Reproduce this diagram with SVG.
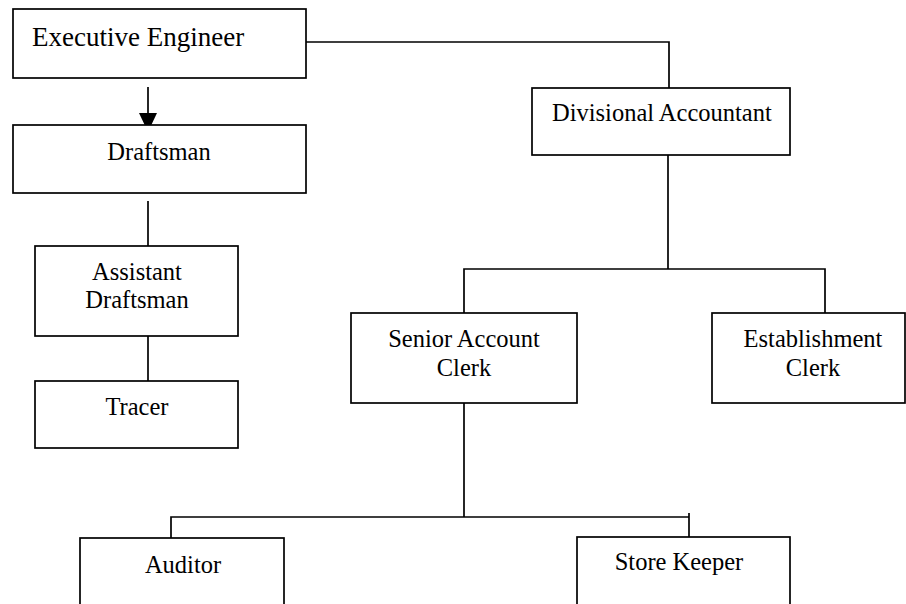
<svg xmlns="http://www.w3.org/2000/svg" width="906" height="604" viewBox="0 0 906 604">
<style>
.box{fill:#fff;stroke:#000;stroke-width:1.7}
.ln{fill:none;stroke:#000;stroke-width:1.7}
text{font-family:"Liberation Serif","Times New Roman",serif;font-size:24.5px;fill:#000}
.c{text-anchor:middle}
</style>
<rect width="906" height="604" fill="#fff"/>
<g id="connectors">
<line class="ln" x1="148" y1="87" x2="148" y2="114"/>
<polygon points="139,113 157,113 148,132" fill="#000"/>
<line class="ln" x1="148" y1="201" x2="148" y2="246"/>
<line class="ln" x1="148" y1="336" x2="148" y2="381"/>
<polyline class="ln" points="306,42 669,42 669,88"/>
<line class="ln" x1="668" y1="155" x2="668" y2="269"/>
<polyline class="ln" points="464,313 464,269 825,269 825,313"/>
<line class="ln" x1="464" y1="403" x2="464" y2="517"/>
<polyline class="ln" points="171,538 171,517 689,517"/>
<line class="ln" x1="689" y1="513" x2="689" y2="537"/>
</g>
<g id="executive-engineer">
<rect class="box" x="13" y="9" width="293" height="69"/>
<text x="32" y="46" style="font-size:27px">Executive Engineer</text>
</g>
<g id="draftsman">
<rect class="box" x="13" y="125" width="293" height="68"/>
<text class="c" x="159" y="160">Draftsman</text>
</g>
<g id="assistant-draftsman">
<rect class="box" x="35" y="246" width="203" height="90"/>
<text class="c" x="137" y="280">Assistant</text>
<text class="c" x="137" y="308">Draftsman</text>
</g>
<g id="tracer">
<rect class="box" x="35" y="381" width="203" height="67"/>
<text class="c" x="137" y="415">Tracer</text>
</g>
<g id="divisional-accountant">
<rect class="box" x="532" y="88" width="258" height="67"/>
<text x="552" y="121">Divisional Accountant</text>
</g>
<g id="senior-account-clerk">
<rect class="box" x="351" y="313" width="226" height="90"/>
<text class="c" x="464" y="347">Senior Account</text>
<text class="c" x="464" y="376">Clerk</text>
</g>
<g id="establishment-clerk">
<rect class="box" x="712" y="313" width="193" height="90"/>
<text class="c" x="813" y="347">Establishment</text>
<text class="c" x="813" y="376">Clerk</text>
</g>
<g id="auditor">
<rect class="box" x="80" y="538" width="204" height="80"/>
<text class="c" x="183" y="573">Auditor</text>
</g>
<g id="store-keeper">
<rect class="box" x="577" y="537" width="213" height="80"/>
<text class="c" x="679" y="570">Store Keeper</text>
</g>
</svg>
